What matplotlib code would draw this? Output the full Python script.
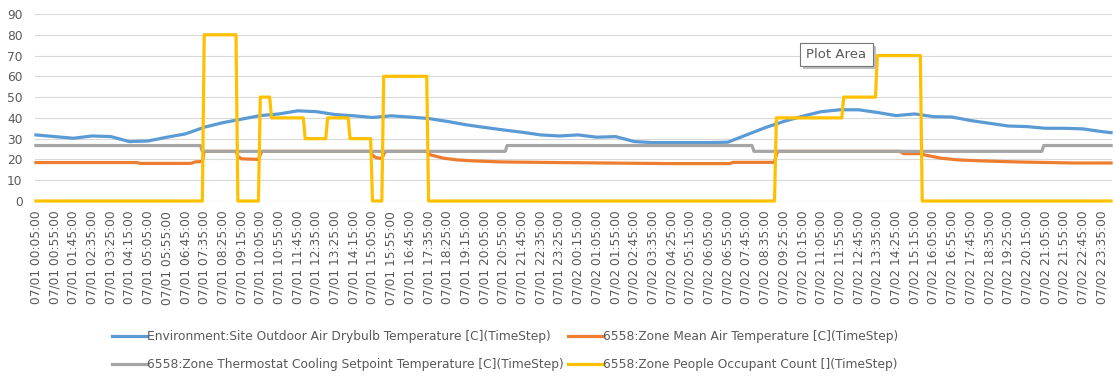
import matplotlib
matplotlib.use('Agg')
import matplotlib.pyplot as plt
import matplotlib.patches as patches
import numpy as np
import pandas as pd

# timestep axis: 5 minute steps, 07/01 00:05 .. 07/03 00:00
nsteps = 576
stamps = pd.date_range('2021-07-01 00:05', periods=nsteps, freq='5min')
tick_idx = np.arange(0, nsteps, 10)
tick_labels = [t.strftime('%m/%d %H:%M:%S') for t in stamps[tick_idx]]

outdoor_idx = list(range(0, 571, 10)) + [575]
outdoor_temp = [31.8, 31.0, 30.2, 31.3, 31.0, 28.6, 28.9, 30.7, 32.3, 35.5,
                37.7, 39.4, 41.1, 41.9, 43.4, 43.0, 41.6, 41.0, 40.2, 41.0,
                40.4, 39.7, 38.3, 36.7, 35.4, 34.2, 33.1, 31.8, 31.3, 31.8,
                30.7, 31.0, 28.6, 28.1, 28.1, 28.1, 28.1, 28.3, 31.8, 35.3,
                38.3, 40.8, 43.0, 43.9, 43.9, 42.6, 41.1, 41.9, 40.6, 40.4,
                38.7, 37.4, 36.1, 35.8, 35.0, 35.0, 34.7, 33.4, 32.9]

# zone mean air temperature, read at its breakpoints
zone_idx = [0, 54, 56, 83, 85, 89, 90, 107, 108, 110, 119, 120, 121, 179,
            180, 182, 185, 186, 187, 209, 211, 218, 225, 234, 249, 279, 339,
            371, 373, 395, 396, 397, 462, 464, 473, 475, 484, 493, 506, 525,
            554, 575]
zone_temp = [18.5, 18.5, 18.1, 18.1, 18.8, 19.0, 23.9, 23.9, 21.5, 20.3,
             20.0, 22.5, 23.9, 23.9, 22.0, 20.8, 20.5, 22.5, 23.9, 23.9,
             22.2, 20.6, 19.8, 19.3, 18.8, 18.5, 18.0, 18.0, 18.6, 18.6,
             22.5, 23.9, 23.9, 22.8, 22.8, 22.2, 20.6, 19.8, 19.3, 18.8,
             18.3, 18.3]

# cooling setpoint schedule (step where each value starts)
setpoint_start = [0, 89, 252, 384, 539]
setpoint_value = [26.7, 23.9, 26.7, 23.9, 26.7]

# occupant count schedule
occ_start = [0, 90, 108, 120, 126, 144, 156, 168, 180, 186, 210, 396, 432, 450, 474]
occ_value = [0, 80, 0, 50, 40, 30, 40, 30, 0, 60, 0, 40, 50, 70, 0]

labels = ['Environment:Site Outdoor Air Drybulb Temperature [C](TimeStep)',
          '6558:Zone Mean Air Temperature [C](TimeStep)',
          '6558:Zone Thermostat Cooling Setpoint Temperature [C](TimeStep)',
          '6558:Zone People Occupant Count [](TimeStep)']
colors = ['#5B9BD5', '#ED7D31', '#A5A5A5', '#FFC000']

def expand(starts, values):
    counts = np.diff(starts + [nsteps])
    return np.repeat(values, counts)

steps = np.arange(nsteps)
setpoint = expand(setpoint_start, setpoint_value)
occupants = expand(occ_start, occ_value)

plt.rcParams['font.family'] = 'DejaVu Sans'
W, H = 1115, 379
fig = plt.figure(figsize=(W / 100, H / 100), dpi=100)
ax = fig.add_axes([35 / W, 1 - 201 / H, (1112 - 35) / W, (201 - 14) / H])

lw = 2.3
l1, = ax.plot(outdoor_idx, outdoor_temp, color=colors[0], lw=lw, clip_on=False, zorder=3)
l2, = ax.plot(zone_idx, zone_temp, color=colors[1], lw=lw, clip_on=False, zorder=4)
l3, = ax.plot(steps, setpoint, color=colors[2], lw=lw, clip_on=False, zorder=5)
l4, = ax.plot(steps, occupants, color=colors[3], lw=lw, clip_on=False, zorder=6)

ax.set_xlim(-0.5, nsteps - 0.5)
ax.set_ylim(0, 90)
ax.set_yticks(np.arange(0, 91, 10))
ax.set_xticks(tick_idx)
ax.set_xticklabels(tick_labels, rotation=90)
ax.tick_params(axis='both', length=0, labelsize=8.8, labelcolor='#595959')
ax.tick_params(axis='x', pad=7)
ax.tick_params(axis='y', pad=9)
ax.grid(axis='y', color='#D9D9D9', lw=0.8)
ax.set_axisbelow(True)
for s in ax.spines.values():
    s.set_visible(False)

leg = fig.legend([l1, l3, l2, l4], [labels[0], labels[2], labels[1], labels[3]],
                 ncol=2, loc='upper left', bbox_to_anchor=(112 / W, 1 - 330 / H),
                 frameon=False, fontsize=8.8, handlelength=2.9, handletextpad=0.0,
                 columnspacing=0.3, labelspacing=1.25, borderpad=0, borderaxespad=0)
for t in leg.get_texts():
    t.set_color('#595959')

# "Plot Area" hover tip left in the screenshot
bx0, by0, bx1, by1 = 800, 43, 873, 66
fig.add_artist(patches.Rectangle(((bx0 + 3) / W, 1 - (by1 + 3) / H), (bx1 - bx0) / W,
                                 (by1 - by0) / H, transform=fig.transFigure,
                                 facecolor='#BFBFBF', edgecolor='none', zorder=9))
fig.add_artist(patches.Rectangle((bx0 / W, 1 - by1 / H), (bx1 - bx0) / W, (by1 - by0) / H,
                                 transform=fig.transFigure, facecolor='white',
                                 edgecolor='#767676', lw=0.8, zorder=10))
fig.text((bx0 + bx1) / 2 / W, 1 - (by0 + by1) / 2 / H, 'Plot Area', ha='center',
         va='center', fontsize=9.5, color='#595959', zorder=11)

fig.savefig('out.png', dpi=100)
